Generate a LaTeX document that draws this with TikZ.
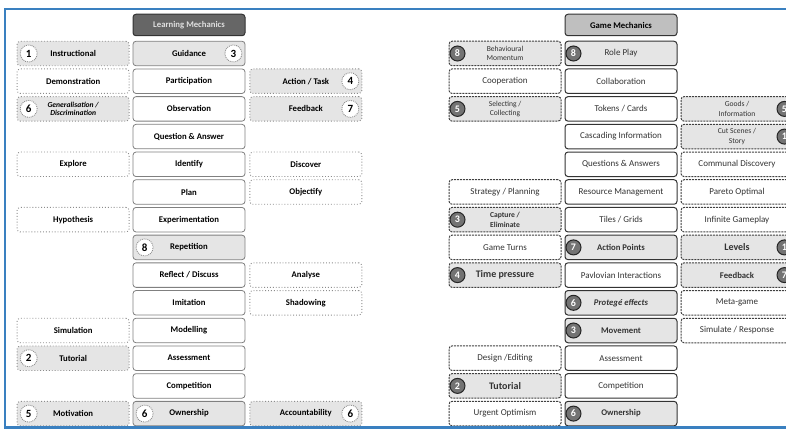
\documentclass[tikz,border=0pt]{standalone}
\usepackage{fontspec}
\setmainfont{Carlito}
\usetikzlibrary{chains,positioning}
\definecolor{frameblue}{RGB}{58,128,192}

\begin{document}
\begin{tikzpicture}[
    x=1pt, y=-1pt,
    node distance=2.4pt and 3pt,
    box/.style={
        minimum width=112pt,
        minimum height=24.5pt,
        inner sep=1pt,
        align=center,
        rounded corners=3pt,
      },
    mech/.style={box, draw=black!50, line width=0.8pt, fill=white,
        font=\fontsize{8.7}{9}\selectfont\bfseries},
    lmside/.style={box, draw=black!45, dotted, line width=0.9pt,
        font=\fontsize{8.7}{9}\selectfont\bfseries},
    gmmech/.style={box, draw=black!80, line width=1pt, fill=white, text=black!80,
        font=\fontsize{9}{9}\selectfont},
    gmside/.style={box, draw=black!75, dash pattern=on 2pt off 1pt, line width=1pt,
        text=black!80, font=\fontsize{9}{9}\selectfont},
    hilite/.style={fill=black!10},
    hibold/.style={fill=black!10, font=\fontsize{8.7}{9}\selectfont\bfseries},
    plainbox/.style={},
    big/.style={font=\fontsize{10}{10}\selectfont\bfseries},
    twoline/.style={font=\fontsize{7.6}{9.5}\selectfont},
    twobold/.style={font=\fontsize{7.6}{9.5}\selectfont\bfseries},
    lmnum/.style={circle, draw=black!45, densely dotted, line width=0.9pt, fill=white,
        minimum size=17pt, inner sep=0pt, font=\fontsize{11}{11}\selectfont\bfseries},
    gmnum/.style={circle, draw=black!85, fill=black!55, line width=1pt, text=white,
        minimum size=15pt, inner sep=0pt, font=\fontsize{10}{10}\selectfont\bfseries},
    head/.style={box, minimum height=21.5pt, line width=1pt, draw=black!80,
        font=\fontsize{8.7}{9}\selectfont\bfseries},
  ]
  \useasboundingbox (0,0) rectangle (786,430);
  \clip (0,0) rectangle (786,430);

  % learning mechanics
  \node[head, fill=black!60, text=black!12] (lmhead) at (189,25) {Learning Mechanics};
  \begin{scope}[start chain=lmcol going below]
    \foreach \Text/\Look [count=\i] in {Guidance/hilite, Participation/plainbox,
        Observation/plainbox, Question \& Answer/plainbox, Identify/plainbox,
        Plan/plainbox, Experimentation/plainbox, Repetition/hilite,
        {Reflect / Discuss}/plainbox, Imitation/plainbox, Modelling/plainbox,
        Assessment/plainbox, Competition/plainbox, Ownership/hilite}
    {
      \ifnum\i=1
        \node[mech, \Look, on chain] (lm\i) at (189,53.5) {\Text};
      \else
        \node[mech, \Look, on chain] (lm\i) {\Text};
      \fi
    }
  \end{scope}

  \node[lmside, hilite, left=of lm1] (lmA1) {Instructional};
  \node[lmside, left=of lm2] (lmA2) {Demonstration};
  \node[lmside, hilite, left=of lm3, font=\fontsize{7.6}{8}\selectfont\bfseries\itshape]
    (lmA3) {Generalisation /\\Discrimination};
  \node[lmside, left=of lm5] (lmA5) {Explore};
  \node[lmside, left=of lm7] (lmA7) {Hypothesis};
  \node[lmside, left=of lm11] (lmA11) {Simulation};
  \node[lmside, hilite, left=of lm12] (lmA12) {Tutorial};
  \node[lmside, hilite, left=of lm14] (lmA14) {Motivation};

  \node[lmside, hilite, right=4pt of lm2] (lmC2) {Action / Task};
  \node[lmside, hilite, right=4pt of lm3] (lmC3) {Feedback};
  \node[lmside, right=4pt of lm5] (lmC5) {Discover};
  \node[lmside, right=4pt of lm6] (lmC6) {Objectify};
  \node[lmside, right=4pt of lm9] (lmC9) {Analyse};
  \node[lmside, right=4pt of lm10] (lmC10) {Shadowing};
  \node[lmside, hilite, right=4pt of lm14] (lmC14) {Accountability};

  \node[lmnum] (lmnA1) at ([xshift=12pt]lmA1.west) {1};
  \node[lmnum] (lmnA3) at ([xshift=12pt]lmA3.west) {6};
  \node[lmnum] (lmnA12) at ([xshift=12pt]lmA12.west) {2};
  \node[lmnum] (lmnA14) at ([xshift=12pt]lmA14.west) {5};
  \node[lmnum] (lmn1) at ([xshift=-12pt]lm1.east) {3};
  \node[lmnum] (lmn8) at ([xshift=12pt]lm8.west) {8};
  \node[lmnum] (lmn14) at ([xshift=12pt]lm14.west) {6};
  \node[lmnum] (lmnC2) at ([xshift=-12pt]lmC2.east) {4};
  \node[lmnum] (lmnC3) at ([xshift=-12pt]lmC3.east) {7};
  \node[lmnum] (lmnC14) at ([xshift=-12pt]lmC14.east) {6};

  % game mechanics
  \node[head, fill=black!25, text=black] (gmhead) at (621,25) {Game Mechanics};
  \begin{scope}[start chain=gmcol going below, node distance=2.2pt and 3pt]
    \foreach \Text/\Look [count=\i] in {Role Play/hilite, Collaboration/plainbox,
        {Tokens / Cards}/plainbox, Cascading Information/plainbox,
        Questions \& Answers/plainbox, Resource Management/plainbox,
        {Tiles / Grids}/plainbox, Action Points/hibold,
        Pavlovian Interactions/plainbox, \textit{Protegé effects}/hibold,
        Movement/hibold, Assessment/plainbox, Competition/plainbox,
        Ownership/hibold}
    {
      \ifnum\i=1
        \node[gmmech, \Look, on chain] (gm\i) at (621,53.5) {\Text};
      \else
        \node[gmmech, \Look, on chain] (gm\i) {\Text};
      \fi
    }
  \end{scope}

  \node[gmside, hilite, left=of gm1, twoline] (gmA1) {Behavioural\\Momentum};
  \node[gmside, left=of gm2] (gmA2) {Cooperation};
  \node[gmside, hilite, left=of gm3, twoline] (gmA3) {Selecting /\\Collecting};
  \node[gmside, left=of gm6] (gmA6) {Strategy / Planning};
  \node[gmside, hilite, left=of gm7, twobold] (gmA7) {Capture /\\Eliminate};
  \node[gmside, left=of gm8] (gmA8) {Game Turns};
  \node[gmside, hilite, left=of gm9, big] (gmA9) {Time pressure};
  \node[gmside, left=of gm12] (gmA12) {Design /Editing};
  \node[gmside, hilite, left=of gm13, big] (gmA13) {Tutorial};
  \node[gmside, left=of gm14] (gmA14) {Urgent Optimism};

  \node[gmside, hilite, right=of gm3, twoline] (gmC3) {Goods /\\Information};
  \node[gmside, hilite, right=of gm4, twoline] (gmC4) {Cut Scenes /\\Story};
  \node[gmside, right=of gm5] (gmC5) {Communal Discovery};
  \node[gmside, right=of gm6] (gmC6) {Pareto Optimal};
  \node[gmside, right=of gm7] (gmC7) {Infinite Gameplay};
  \node[gmside, hilite, right=of gm8, big] (gmC8) {Levels};
  \node[gmside, hilite, right=of gm9, hibold] (gmC9) {Feedback};
  \node[gmside, right=of gm10] (gmC10) {Meta-game};
  \node[gmside, right=of gm11] (gmC11) {Simulate / Response};

  \node[gmnum] (gmnA1) at ([xshift=9pt]gmA1.west) {8};
  \node[gmnum] (gmnA3) at ([xshift=9pt]gmA3.west) {5};
  \node[gmnum] (gmnA7) at ([xshift=9pt]gmA7.west) {3};
  \node[gmnum] (gmnA9) at ([xshift=9pt]gmA9.west) {4};
  \node[gmnum] (gmnA13) at ([xshift=9pt]gmA13.west) {2};
  \node[gmnum] (gmn1) at ([xshift=9pt]gm1.west) {8};
  \node[gmnum] (gmn8) at ([xshift=9pt]gm8.west) {7};
  \node[gmnum] (gmn10) at ([xshift=9pt]gm10.west) {6};
  \node[gmnum] (gmn11) at ([xshift=9pt]gm11.west) {3};
  \node[gmnum] (gmn14) at ([xshift=9pt]gm14.west) {6};
  \node[gmnum] (gmnC3) at ([xshift=-9pt]gmC3.east) {5};
  \node[gmnum] (gmnC4) at ([xshift=-9pt]gmC4.east) {1};
  \node[gmnum] (gmnC8) at ([xshift=-9pt]gmC8.east) {1};
  \node[gmnum] (gmnC9) at ([xshift=-9pt]gmC9.east) {7};

  % frame
  \draw[frameblue, line width=2.5pt] (5,9) rectangle (800,427.5);
\end{tikzpicture}
\end{document}
